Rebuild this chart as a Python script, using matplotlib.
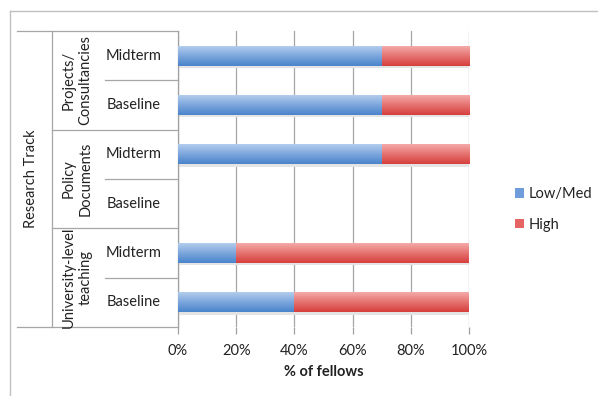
import numpy as np
import matplotlib.pyplot as plt
from matplotlib.colors import LinearSegmentedColormap
from matplotlib.patches import Patch
from matplotlib.lines import Line2D
from matplotlib.transforms import blended_transform_factory

plt.rcParams['font.family'] = ['Lato', 'DejaVu Sans']

# rows listed bottom to top
stages = ['Baseline', 'Midterm', 'Baseline', 'Midterm', 'Baseline', 'Midterm']
groups = ['University-level\nteaching', 'Policy\nDocuments', 'Projects/\nConsultancies']
track = 'Research Track'
low_med = [40, 20, 0, 70, 70, 70]
high = [60, 80, 0, 30, 30, 30]
xticks = [0, 20, 40, 60, 80, 100]

W, H = 598, 396
fig = plt.figure(figsize=(W / 100, H / 100), dpi=100)


def fx(px):
    return px / W


def fy(py):
    return 1 - py / H


ax = fig.add_axes([fx(178), fy(327), fx(469) - fx(178), fy(31) - fy(327)])

blue = LinearSegmentedColormap.from_list('b', ['#4a84cc', '#7ca6dc', '#b2cdee'])
red = LinearSegmentedColormap.from_list('r', ['#d63f3c', '#e57270', '#f4aaa9'])
grad = np.linspace(0, 1, 64).reshape(-1, 1)
bar_h = 0.4

for i in range(len(stages)):
    left = 0
    for vals, cmap in ((low_med, blue), (high, red)):
        w = vals[i]
        if w > 0:
            # soft shadow under the bar
            ax.fill_between([left, left + w], i - bar_h / 2 - 0.05, i - bar_h / 2,
                            color='#e4e4e4', lw=0, zorder=2)
            ax.imshow(grad, cmap=cmap, origin='lower', aspect='auto',
                      extent=[left, left + w, i - bar_h / 2, i + bar_h / 2],
                      interpolation='bicubic', zorder=3)
        left += w

ax.set_xlim(0, 100)
ax.set_ylim(-0.5, len(stages) - 0.5)
ax.set_xticks(xticks)
ax.set_xticklabels([f'{t}%' for t in xticks], fontsize=10.5, color='#222222')
ax.set_yticks([])
ax.tick_params(axis='x', length=5, width=0.9, color='#a0a0a0', pad=7)
ax.grid(axis='x', color='#a6a6a6', lw=0.9, zorder=1)
for s in ('top', 'right', 'bottom'):
    ax.spines[s].set_visible(False)
ax.spines['left'].set_color('#a0a0a0')
ax.spines['left'].set_linewidth(0.9)
ax.set_xlabel('% of fellows', fontsize=10.5, fontweight='bold', color='#222222', labelpad=5)

# multi-level category axis drawn to the left of the plot
tr = blended_transform_factory(fig.transFigure, ax.transData)
line_kw = dict(transform=tr, color='#a6a6a6', lw=0.9, clip_on=False)
top, bottom = len(stages) - 0.5, -0.5
fig.add_artist(Line2D([fx(17), fx(178)], [top, top], **line_kw))
fig.add_artist(Line2D([fx(17), fx(178)], [bottom, bottom], **line_kw))
fig.add_artist(Line2D([fx(52), fx(52)], [bottom, top], **line_kw))
for i, stage in enumerate(stages):
    fig.text(fx(134), i, stage, transform=tr, ha='center', va='center',
             fontsize=10.5, color='#222222')
    if i % 2 == 1 and i < len(stages) - 1:
        fig.add_artist(Line2D([fx(52), fx(178)], [i + 0.5, i + 0.5], **line_kw))
    if i % 2 == 0:
        fig.add_artist(Line2D([fx(105), fx(178)], [i + 0.5, i + 0.5], **line_kw))
for g, name in enumerate(groups):
    fig.text(fx(77), 2 * g + 0.5, name, transform=tr, ha='center', va='center',
             rotation=90, fontsize=10.5, color='#222222', linespacing=1.25)
fig.text(fx(31), (top + bottom) / 2, track, transform=tr, ha='center', va='center',
         rotation=90, fontsize=10.5, color='#222222')

# chart frame (top and left edges)
frame_kw = dict(transform=fig.transFigure, color='#c0c0c0', lw=1.0)
fig.add_artist(Line2D([fx(10), 1.0], [fy(11), fy(11)], **frame_kw))
fig.add_artist(Line2D([fx(10), fx(10)], [fy(11), 0.0], **frame_kw))

handles = [Patch(facecolor='#6f9ddb', edgecolor='none', label='Low/Med'),
           Patch(facecolor='#e46563', edgecolor='none', label='High')]
fig.legend(handles=handles, loc='upper left', bbox_to_anchor=(fx(502), fy(174)),
           frameon=False, fontsize=10.5, handlelength=0.6, handleheight=0.6,
           handletextpad=0.3, labelspacing=1.15, labelcolor='#222222')

fig.savefig('out.png', dpi=100)
